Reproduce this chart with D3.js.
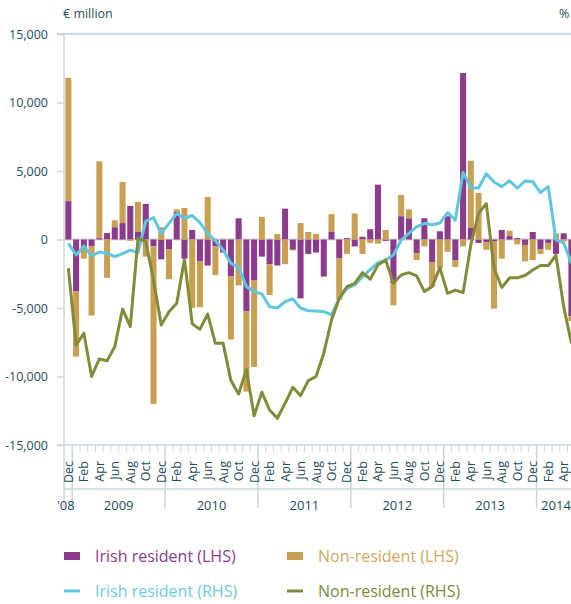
<!DOCTYPE html>
<html><head><meta charset="utf-8">
<script src="https://cdn.jsdelivr.net/npm/d3@7"></script>
<style>
body{margin:0;background:#fff}
svg{display:block}
text{font-family:"Open Sans","Noto Sans",sans-serif}
</style>
</head><body>
<svg id="chart" width="571" height="604"></svg>
<script>
// ---------- DATA ----------
const categories = [
 "Dec 2008",
 "Jan 2009","Feb 2009","Mar 2009","Apr 2009","May 2009","Jun 2009","Jul 2009","Aug 2009","Sep 2009","Oct 2009","Nov 2009","Dec 2009",
 "Jan 2010","Feb 2010","Mar 2010","Apr 2010","May 2010","Jun 2010","Jul 2010","Aug 2010","Sep 2010","Oct 2010","Nov 2010","Dec 2010",
 "Jan 2011","Feb 2011","Mar 2011","Apr 2011","May 2011","Jun 2011","Jul 2011","Aug 2011","Sep 2011","Oct 2011","Nov 2011","Dec 2011",
 "Jan 2012","Feb 2012","Mar 2012","Apr 2012","May 2012","Jun 2012","Jul 2012","Aug 2012","Sep 2012","Oct 2012","Nov 2012","Dec 2012",
 "Jan 2013","Feb 2013","Mar 2013","Apr 2013","May 2013","Jun 2013","Jul 2013","Aug 2013","Sep 2013","Oct 2013","Nov 2013","Dec 2013",
 "Jan 2014","Feb 2014","Mar 2014","Apr 2014","May 2014"
];
// € million (LHS)
const irishLHS = [
 2800,
 -3800,-700,-500,100,470,900,1200,2450,550,2600,-500,-1450,
 -700,2000,-1400,700,-1600,-1900,-500,-950,-2700,1550,-5250,-3000,
 -1250,-1800,-1900,2250,-750,-4300,-1050,-950,-2700,550,-1350,100,
 -500,200,750,4000,-100,-3200,1700,1550,-1000,1550,-1650,600,
 1700,-1500,12150,850,-250,-200,-150,700,250,100,-400,550,
 -700,-250,-1050,450,-5600
];
const nonresLHS = [
 9000,
 -4750,-700,-5050,5600,-2800,500,3000,-100,2200,-1250,-11500,900,
 -2200,200,2300,-5000,-3350,3100,-2100,50,-4600,-3350,-5850,-6300,
 1650,-2250,400,-1800,-50,1200,550,400,-50,1300,-3050,-1050,
 1900,-1050,-250,-300,700,-1600,1550,650,-500,-500,-1800,-2100,
 -900,-500,-500,4900,3400,-550,-4900,-1400,400,-350,-1200,-1500,
 -350,-500,450,-150,-350
];
// % (RHS)
const irishRHS = [
 -0.28,
 -1.13,-0.47,-1.2,-0.91,-1.0,-1.25,-1.03,-0.77,-0.96,1.35,1.6,0.45,
 1.18,1.9,1.55,1.75,1.23,0.45,-0.1,-0.77,-1.74,-2.03,-3.44,-3.8,
 -3.98,-4.9,-5.0,-4.54,-4.34,-5.0,-5.2,-5.22,-5.27,-5.5,-4.3,-3.56,
 -3.32,-2.71,-2.2,-1.69,-1.5,-1.13,-0.04,0.45,0.93,1.18,1.08,1.2,
 1.96,1.42,4.9,3.78,3.76,4.8,4.2,3.86,4.29,3.74,4.27,4.22,
 3.42,3.86,-0.04,-0.25,-1.74
];
const nonresRHS = [
 -2.1,
 -7.7,-6.85,-10.0,-8.72,-8.85,-7.82,-5.07,-6.36,0.1,-0.16,-2.96,-6.24,
 -5.27,-4.66,-1.45,-6.15,-6.56,-5.44,-7.58,-7.58,-10.3,-11.28,-9.48,-12.86,
 -11.15,-12.45,-13.05,-11.96,-10.79,-11.4,-10.3,-10.0,-8.3,-5.88,-4.3,-3.44,
 -3.2,-2.42,-2.9,-1.86,-1.5,-3.2,-2.59,-2.42,-2.66,-3.8,-3.44,-2.05,
 -3.93,-3.69,-3.88,-0.4,1.9,2.62,-2.1,-3.5,-2.8,-2.8,-2.63,-2.23,
 -1.9,-1.9,-1.15,-4.9,-7.58
];
const yTicks = [-15000,-10000,-5000,0,5000,10000,15000];
const yearLabels = ["'08","2009","2010","2011","2012","2013","2014"];
const seriesNames = ["Irish resident (LHS)","Non-resident (LHS)","Irish resident (RHS)","Non-resident (RHS)"];

// ---------- STYLE ----------
const C = {purple:"#8c3a8c", gold:"#c9a052", blue:"#5fc6e0", olive:"#838b3b",
  axisText:"#1f4d5c", grid:"#bcd1d9", axis:"#cad7dd", zero:"#d5d5d5"};

const svg = d3.select("#chart");
const W = 571;

const x = d3.scaleBand().domain(categories).range([64.5, 575.3]).paddingInner(0.22).paddingOuter(0.11);
const y = d3.scaleLinear().domain([-15000, 15000]).range([445, 34]);
const yR = d3.scaleLinear().domain([-15, 15]).range([445, 34]);
const cx = c => x(c) + x.bandwidth()/2;
const leftEdge = c => x(c) - x.step()*0.11;

// zero line
svg.append("line").attr("x1",64).attr("x2",W).attr("y1",y(0)).attr("y2",y(0))
  .attr("stroke",C.zero).attr("stroke-width",2);

// stacked bars
const table = categories.map((c,i)=>({cat:c, irish:irishLHS[i], nonres:nonresLHS[i]}));
const stack = d3.stack().keys(["irish","nonres"]).offset(d3.stackOffsetDiverging);
const layers = stack(table);
const colors = {irish:C.purple, nonres:C.gold};
svg.append("g").selectAll("g").data(layers).join("g").attr("fill", d=>colors[d.key])
  .selectAll("rect").data(d=>d).join("rect")
  .attr("x", d=>x(d.data.cat)).attr("width", x.bandwidth())
  .attr("y", d=>y(Math.max(d[0],d[1])))
  .attr("height", d=>Math.abs(y(d[0])-y(d[1])));

// lines
const line = d3.line().x((d,i)=>cx(categories[i])).y(d=>yR(d));
svg.append("path").datum(irishRHS).attr("d",line).attr("fill","none")
  .attr("stroke",C.blue).attr("stroke-width",3).attr("stroke-linejoin","round");
svg.append("path").datum(nonresRHS).attr("d",line).attr("fill","none")
  .attr("stroke",C.olive).attr("stroke-width",3).attr("stroke-linejoin","round");

// y axis
const fmt = d => d3.format(",")(d).replace("\u2212","-");
const yAx = svg.append("g").attr("transform","translate(64,0)")
  .call(d3.axisLeft(y).tickValues(yTicks).tickSize(7).tickPadding(9).tickFormat(fmt));
yAx.select(".domain").remove();
yAx.selectAll(".tick line").attr("stroke",C.axis).attr("stroke-width",1.5);
yAx.selectAll(".tick text").attr("fill",C.axisText).style("font-size","12.5px");

// top gridline, bottom axis line, left axis line
svg.append("line").attr("x1",57).attr("x2",W).attr("y1",y(15000)).attr("y2",y(15000))
  .attr("stroke",C.grid).attr("stroke-width",1.5);
svg.append("line").attr("x1",57).attr("x2",W).attr("y1",y(-15000)).attr("y2",y(-15000))
  .attr("stroke",C.axis).attr("stroke-width",1.5);
svg.append("line").attr("x1",64).attr("x2",64).attr("y1",y(15000)).attr("y2",508)
  .attr("stroke",C.axis).attr("stroke-width",1.5);
svg.append("line").attr("x1",64).attr("x2",W).attr("y1",489).attr("y2",489)
  .attr("stroke",C.axis).attr("stroke-width",1.5);

// month ticks and year separators
const tickG = svg.append("g");
categories.forEach((c,i)=>{
  if(i===0) return;
  const isJan = c.startsWith("Jan");
  tickG.append("line").attr("x1",leftEdge(c)).attr("x2",leftEdge(c))
    .attr("y1",y(-15000)).attr("y2", isJan ? 508 : 452)
    .attr("stroke",C.axis).attr("stroke-width", isJan ? 1.5 : 1);
});

// month labels
const evenCats = categories.filter((c,i)=>i%2===0);
const xAx = svg.append("g").attr("transform",`translate(0,${y(-15000)})`)
  .call(d3.axisBottom(x).tickValues(evenCats).tickSize(0).tickFormat(d=>d.slice(0,3)));
xAx.select(".domain").remove();
xAx.selectAll(".tick text").attr("transform","rotate(-90)")
  .attr("x",-16).attr("y",0).attr("dy","0.36em").attr("text-anchor","end")
  .attr("fill",C.axisText).style("font-size","12.5px");

// year labels
const yearOf = c => c.slice(4);
const yearKeys = Array.from(new Set(categories.map(yearOf)));
yearKeys.forEach((yr,k)=>{
  const cats = categories.filter(c=>yearOf(c)===yr);
  const x0 = leftEdge(cats[0]), x1 = leftEdge(cats[cats.length-1]) + x.step();
  svg.append("text").attr("x",(x0+x1)/2 - (k===0?2.5:0)).attr("y",510)
    .attr("text-anchor","middle").attr("fill",C.axisText).style("font-size","13px")
    .text(yearLabels[k]);
});

// axis titles
svg.append("text").attr("x",63).attr("y",18).attr("fill",C.axisText).style("font-size","12.5px").text("€ million");
svg.append("text").attr("x",559).attr("y",18).attr("fill",C.axisText).style("font-size","12.5px").text("%");

// legend
const legend = [
  {name:seriesNames[0], type:"rect", color:C.purple, text:"#8c3a8c", x:64, y:556},
  {name:seriesNames[1], type:"rect", color:C.gold, text:"#cfa75c", x:287, y:556},
  {name:seriesNames[2], type:"line", color:C.blue, text:"#6ccae4", x:64, y:591},
  {name:seriesNames[3], type:"line", color:C.olive, text:"#7d883a", x:287, y:591}
];
const lg = svg.append("g").selectAll("g").data(legend).join("g");
lg.each(function(d){
  const g = d3.select(this);
  if(d.type==="rect") g.append("rect").attr("x",d.x).attr("y",d.y-4).attr("width",16).attr("height",8).attr("fill",d.color);
  else g.append("line").attr("x1",d.x).attr("x2",d.x+16).attr("y1",d.y).attr("y2",d.y).attr("stroke",d.color).attr("stroke-width",3);
  g.append("text").attr("x",d.x+31).attr("y",d.y).attr("dy","0.35em").attr("fill",d.text)
    .style("font-size","16px").text(d.name);
});
</script>
</body></html>
